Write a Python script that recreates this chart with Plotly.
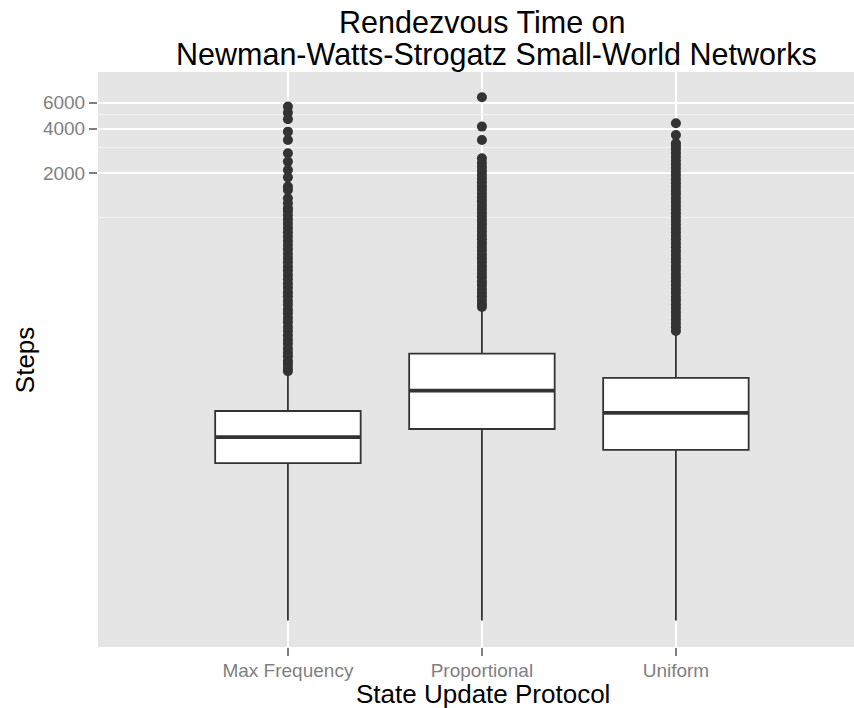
import plotly.graph_objects as go

# Box summary statistics (steps) for each state update protocol
protocols = ["Max Frequency", "Proportional", "Uniform"]
q1 = [22, 37.4, 27]
median = [33, 68, 48]
q3 = [49.5, 120.8, 82.8]
lower_whisker = [1.9, 1.9, 1.9]
upper_whisker = [90, 245, 168]

# Outlying runs beyond the upper whisker
outliers_max_frequency = [
    92, 97, 103, 108, 116, 123, 131, 141, 150, 160, 172, 183, 197, 210, 226,
    240, 258, 275, 295, 314, 337, 360, 385, 410, 440, 468, 500, 535, 572, 612,
    655, 700, 748, 798, 852, 912, 975, 1040, 1110, 1160, 1254, 1355, 1541,
    1624, 1876, 2105, 2397, 2730, 3358, 3820, 4634, 5130, 5640,
]
outliers_proportional = [
    250, 262, 278, 295, 312, 330, 352, 372, 396, 420, 446, 472, 502, 532, 565,
    600, 636, 675, 716, 760, 806, 856, 908, 962, 1020, 1083, 1150, 1218, 1292,
    1370, 1455, 1543, 1636, 1735, 1840, 1950, 2070, 2200, 2350, 2525, 3358,
    4130, 6530,
]
outliers_uniform = [
    172, 182, 193, 205, 218, 231, 246, 260, 277, 293, 312, 330, 351, 372, 395,
    418, 445, 471, 500, 530, 563, 596, 633, 670, 712, 754, 800, 848, 900, 954,
    1012, 1072, 1138, 1206, 1280, 1356, 1440, 1525, 1618, 1714, 1820, 1928,
    2045, 2168, 2300, 2438, 2586, 2740, 2906, 3060, 3190, 3630, 4354,
]
outliers = [outliers_max_frequency, outliers_proportional, outliers_uniform]

y_ticks = [2000, 4000, 6000]
y_minor = [1000, 3000, 5000]

box_width = 0.75
ink = "#333333"
grey_text = "#7F7F7F"
font_family = "Liberation Sans, Arial, sans-serif"

fig = go.Figure()

for i, name in enumerate(protocols):
    fig.add_trace(go.Box(
        x=[i],
        q1=[q1[i]],
        median=[median[i]],
        q3=[q3[i]],
        lowerfence=[lower_whisker[i]],
        upperfence=[upper_whisker[i]],
        width=box_width,
        whiskerwidth=0,
        fillcolor="white",
        line=dict(color=ink, width=1.8),
        boxpoints=False,
        name=name,
        showlegend=False,
        hoverinfo="skip",
    ))
    # heavier median bar
    fig.add_trace(go.Scatter(
        x=[i - box_width / 2, i + box_width / 2],
        y=[median[i], median[i]],
        mode="lines",
        line=dict(color=ink, width=3.8),
        showlegend=False,
        hoverinfo="skip",
    ))
    fig.add_trace(go.Scatter(
        x=[i] * len(outliers[i]),
        y=outliers[i],
        mode="markers",
        marker=dict(color=ink, size=10, line=dict(width=0)),
        showlegend=False,
        hoverinfo="skip",
    ))

title_font = dict(family=font_family, size=30.5, color="black")
axis_title_font = dict(family=font_family, size=26, color="black")

annotations = [
    dict(text="Rendezvous Time on", x=0.508, y=1.0870, xref="paper", yref="paper",
         xanchor="center", yanchor="middle", showarrow=False, font=title_font),
    dict(text="Newman-Watts-Strogatz Small-World Networks", x=0.527, y=1.0313,
         xref="paper", yref="paper", xanchor="center", yanchor="middle",
         showarrow=False, font=title_font),
    dict(text="State Update Protocol", x=0.509, y=-0.082, xref="paper",
         yref="paper", xanchor="center", yanchor="middle", showarrow=False,
         font=axis_title_font),
    dict(text="Steps", x=-0.097, y=0.5, xref="paper", yref="paper",
         xanchor="center", yanchor="middle", textangle=-90, showarrow=False,
         font=axis_title_font),
]

fig.update_layout(
    width=854,
    height=708,
    margin=dict(l=98, r=0, t=72, b=61),
    paper_bgcolor="white",
    plot_bgcolor="#E5E5E5",
    font=dict(family=font_family),
    annotations=annotations,
    xaxis=dict(
        range=[-0.979, 2.918],
        tickmode="array",
        tickvals=list(range(len(protocols))),
        ticktext=protocols,
        showgrid=True,
        gridcolor="white",
        gridwidth=2,
        zeroline=False,
        ticks="outside",
        ticklen=8,
        tickwidth=1.5,
        tickcolor=grey_text,
        ticklabelstandoff=-2,
        tickfont=dict(size=19, color=grey_text),
    ),
    yaxis=dict(
        type="log",
        range=[0.10, 3.985],
        tickmode="array",
        tickvals=y_ticks,
        ticktext=[str(v) for v in y_ticks],
        showgrid=True,
        gridcolor="white",
        gridwidth=2,
        zeroline=False,
        ticks="outside",
        ticklen=8,
        tickwidth=1.5,
        tickcolor=grey_text,
        tickfont=dict(size=19, color=grey_text),
        minor=dict(tickmode="array", tickvals=y_minor, showgrid=True,
                   gridcolor="#F2F2F2", gridwidth=1, ticks=""),
    ),
)

fig.write_html("out.html")
